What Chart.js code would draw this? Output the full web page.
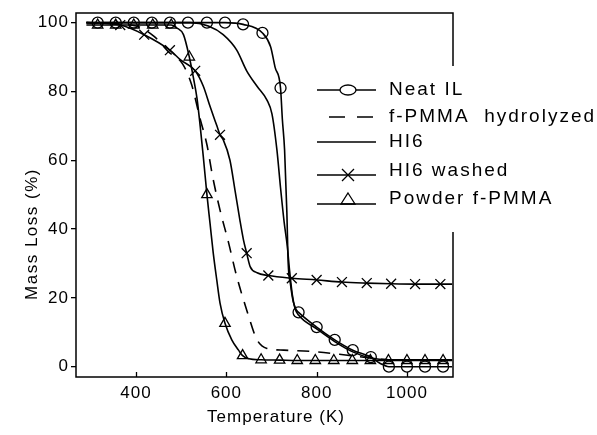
<!DOCTYPE html>
<html>
<head>
<meta charset="utf-8">
<script src="https://cdn.jsdelivr.net/npm/chart.js@4.4.0/dist/chart.umd.min.js"></script>
<style>
  html, body { margin: 0; padding: 0; background: #fff; }
</style>
</head>
<body>
<canvas id="tga" width="597" height="435"></canvas>
<script>
// axis ticks
const xTicks = [400, 600, 800, 1000];
const yTicks = [0, 20, 40, 60, 80, 100];

// Neat IL (circles)
const neatTemp = [290, 315, 355, 395, 435, 475, 515, 557, 597, 637, 680, 698, 708, 720, 724, 729, 734, 737, 742, 748, 755, 760, 800, 840, 880, 920, 940, 960, 1000, 1040, 1080, 1100];
const neatLoss = [100, 100, 100, 100, 100, 100, 100, 100, 100, 99.5, 97, 93, 87, 81, 72, 63, 45, 30, 24, 19, 16.5, 15.8, 11.5, 7.8, 4.8, 2.8, 1, 0, 0, 0, 0, 0];
const neatMarks = [315, 355, 395, 435, 475, 515, 557, 597, 637, 680, 720, 760, 800, 840, 880, 920, 960, 1000, 1040, 1080];

// f-PMMA hydrolyzed (dashed)
const hydTemp = [290, 400, 440, 472, 503, 523, 542, 557, 570, 586, 605, 622, 645, 668, 690, 727, 793, 864, 919, 960, 1100];
const hydLoss = [100, 99, 96, 91.5, 88, 82, 72, 64.5, 55, 45.5, 36, 26.7, 16.5, 7.8, 5.3, 4.8, 4.4, 3.4, 2.5, 2, 2];

// HI6 (plain line)
const hi6Temp = [290, 520, 560, 593, 623, 645, 668, 690, 701, 712, 720, 728, 735, 740, 746, 752, 760, 800, 840, 880, 920, 960, 1100];
const hi6Loss = [100, 100, 99, 96.5, 92, 86, 81.5, 77.5, 73.5, 63, 52, 42, 35, 28, 21, 17, 15, 11, 7.3, 4.3, 2.5, 2, 2];

// HI6 washed (crosses)
const washTemp = [290, 365, 418, 475, 500, 531, 549, 564, 579, 586, 593, 608, 619, 630, 638, 645, 653, 668, 693, 745, 800, 856, 911, 965, 1018, 1074, 1100];
const washLoss = [100, 99.3, 96.5, 92, 89, 86, 81.5, 75.6, 70, 67.4, 66, 60, 51.4, 42.6, 36.8, 33, 29, 27.3, 26.5, 25.7, 25.2, 24.6, 24.3, 24.1, 24, 24, 24];
const washMarks = [365, 418, 475, 531, 586, 645, 693, 745, 800, 856, 911, 965, 1018, 1074];

// Powder f-PMMA (triangles)
const powTemp = [290, 315, 355, 395, 437, 478, 490, 505, 518, 527, 535, 542, 549, 557, 564, 571, 579, 586, 597, 612, 627, 636, 650, 677, 718, 757, 797, 838, 879, 919, 959, 1000, 1040, 1080, 1100];
const powLoss = [99.3, 99.3, 99.3, 99.3, 99.3, 99.3, 98.5, 96.5, 90, 84, 78, 70, 61, 50, 41.5, 33, 25, 18.5, 12.6, 7.8, 4.8, 3.2, 2.3, 2, 1.9, 1.8, 1.8, 1.8, 1.8, 1.8, 1.8, 1.8, 1.8, 1.8, 1.8];
const powMarks = [315, 355, 395, 437, 478, 518, 557, 597, 636, 677, 718, 757, 797, 838, 879, 919, 959, 1000, 1040, 1080];

const FONT = '"Liberation Sans", Arial, sans-serif';

function makeSet(label, temps, values, marks, style, radius, dash) {
    return {
        label: label,
        data: temps.map(function(t, i) { return {x: t, y: values[i]}; }),
        borderColor: '#000',
        borderWidth: 1.6,
        borderDash: dash || [],
        pointStyle: style || 'circle',
        pointRadius: function(ctx) {
            return marks && ctx.raw && marks.indexOf(ctx.raw.x) >= 0 ? radius : 0;
        },
        pointBorderColor: '#000',
        pointBackgroundColor: 'rgba(0,0,0,0)',
        pointBorderWidth: 1.3,
        cubicInterpolationMode: 'monotone',
        fill: false
    };
}

// frame, inner x ticks, axis titles and the legend
const decorPlugin = {
    id: 'decor',
    beforeDraw: function(chart) {
        chart.ctx.letterSpacing = '1px';
    },
    afterDraw: function(chart) {
        const ctx = chart.ctx;
        const a = chart.chartArea;
        const xs = chart.scales.x;
        ctx.save();
        ctx.strokeStyle = '#000';
        ctx.lineWidth = 1.5;
        ctx.strokeRect(a.left, a.top, a.right - a.left, a.bottom - a.top);
        ctx.lineWidth = 1.3;
        xTicks.forEach(function(v) {
            const px = Math.round(xs.getPixelForValue(v)) + 0.5;
            ctx.beginPath();
            ctx.moveTo(px, a.bottom);
            ctx.lineTo(px, a.bottom - 5);
            ctx.stroke();
        });

        // axis titles
        ctx.fillStyle = '#000';
        ctx.textAlign = 'center';
        ctx.textBaseline = 'middle';
        ctx.font = '17px ' + FONT;
        ctx.letterSpacing = '1px';
        ctx.fillText('Temperature (K)', 276, 417);
        ctx.save();
        ctx.translate(32, 234);
        ctx.rotate(-Math.PI / 2);
        ctx.letterSpacing = '1.5px';
        ctx.fillText('Mass Loss (%)', 0, 0);
        ctx.restore();

        // legend
        ctx.fillStyle = '#fff';
        ctx.fillRect(302, 66, 295, 166);
        const lineY = [90, 117, 142, 175, 204];
        const textY = [90, 117, 142, 171, 199];
        ctx.font = '19px ' + FONT;
        ctx.letterSpacing = '2px';
        ctx.textAlign = 'left';
        chart.data.datasets.forEach(function(ds, i) {
            ctx.strokeStyle = '#000';
            ctx.lineWidth = 1.6;
            ctx.setLineDash(ds.borderDash.length ? [16, 12] : []);
            ctx.lineDashOffset = ds.borderDash.length ? 16 : 0;
            ctx.beginPath();
            ctx.moveTo(317, lineY[i]);
            ctx.lineTo(376, lineY[i]);
            ctx.stroke();
            ctx.setLineDash([]);
            ctx.lineWidth = 1.3;
            const cx = 348;
            if (i === 0) {
                ctx.fillStyle = '#fff';
                ctx.beginPath();
                ctx.ellipse(cx, lineY[i], 8, 5, 0, 0, Math.PI * 2);
                ctx.fill();
                ctx.stroke();
            } else if (i === 3) {
                ctx.beginPath();
                ctx.moveTo(cx - 6, lineY[i] - 6);
                ctx.lineTo(cx + 6, lineY[i] + 6);
                ctx.moveTo(cx + 6, lineY[i] - 6);
                ctx.lineTo(cx - 6, lineY[i] + 6);
                ctx.stroke();
            } else if (i === 4) {
                ctx.beginPath();
                ctx.moveTo(cx, lineY[i] - 11);
                ctx.lineTo(cx + 7, lineY[i]);
                ctx.lineTo(cx - 7, lineY[i]);
                ctx.closePath();
                ctx.stroke();
            }
            ctx.fillStyle = '#000';
            ctx.fillText(ds.label, 389, textY[i]);
        });
        ctx.restore();
    }
};

new Chart(document.getElementById('tga'), {
    type: 'line',
    data: {
        datasets: [
            makeSet('Neat IL', neatTemp, neatLoss, neatMarks, 'circle', 5.5),
            makeSet('f-PMMA  hydrolyzed', hydTemp, hydLoss, null, 'circle', 0, [12, 9]),
            makeSet('HI6', hi6Temp, hi6Loss, null, 'circle', 0),
            makeSet('HI6 washed', washTemp, washLoss, washMarks, 'crossRot', 7),
            makeSet('Powder f-PMMA', powTemp, powLoss, powMarks, 'triangle', 6)
        ]
    },
    options: {
        responsive: false,
        animation: false,
        events: [],
        devicePixelRatio: 1,
        layout: { padding: { left: 0, right: 144, top: 13, bottom: 0 } },
        plugins: {
            legend: { display: false },
            tooltip: { enabled: false }
        },
        scales: {
            x: {
                type: 'linear',
                min: 267,
                max: 1102,
                grid: { display: false, drawTicks: false },
                border: { display: false },
                ticks: {
                    color: '#000',
                    font: { family: FONT, size: 17 },
                    padding: 6,
                    callback: function(v) { return String(v); }
                },
                afterBuildTicks: function(s) { s.ticks = xTicks.map(function(v) { return {value: v}; }); },
                afterFit: function(s) { s.height = 58; }
            },
            y: {
                type: 'linear',
                min: -3,
                max: 102.8,
                grid: { display: true, drawOnChartArea: false, drawTicks: true, tickLength: 5, color: '#000', lineWidth: 1.3 },
                border: { display: false },
                ticks: {
                    color: '#000',
                    font: { family: FONT, size: 17 },
                    padding: 2,
                    callback: function(v) { return String(v); }
                },
                afterBuildTicks: function(s) { s.ticks = yTicks.map(function(v) { return {value: v}; }); },
                afterFit: function(s) { s.width = 76; }
            }
        }
    },
    plugins: [decorPlugin]
});
</script>
</body>
</html>
